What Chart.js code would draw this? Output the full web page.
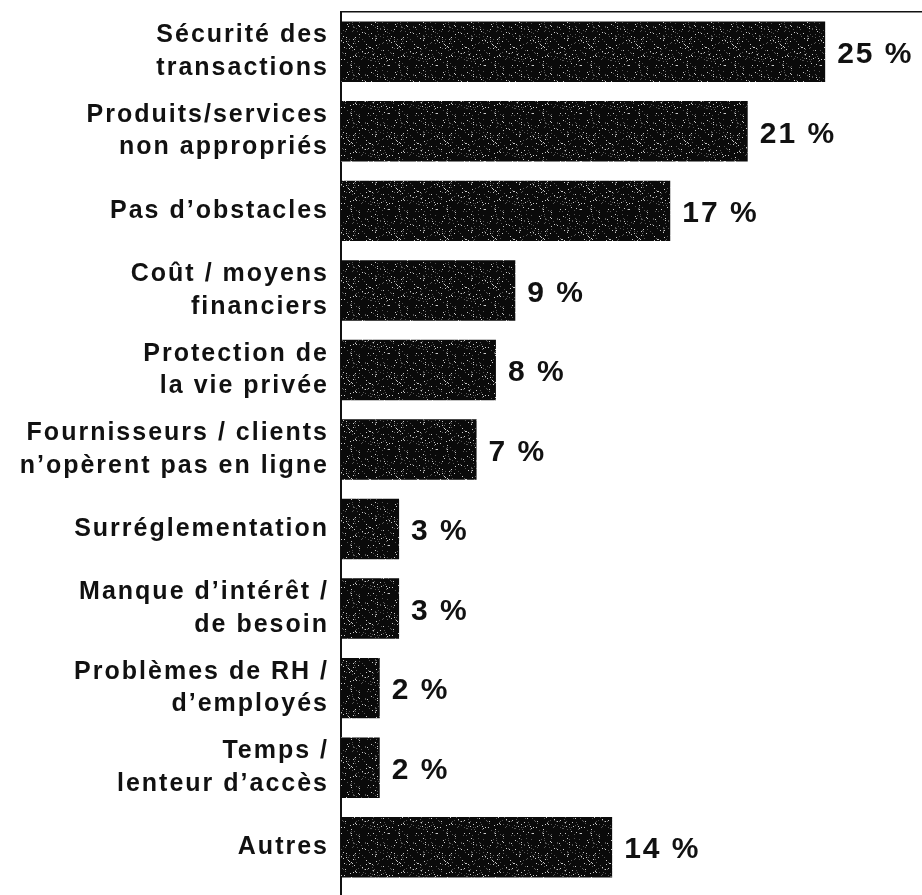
<!DOCTYPE html>
<html>
<head>
<meta charset="utf-8">
<script src="https://cdn.jsdelivr.net/npm/chart.js@4"></script>
<style>
  html, body { margin: 0; padding: 0; background: #fff; }
  #wrap { width: 922px; height: 895px; }
</style>
</head>
<body>
<div id="wrap"><canvas id="chart"></canvas></div>
<script>
// Categories (top to bottom) and percentages
var categories = [
    ['Sécurité des', 'transactions'],
    ['Produits/services', 'non appropriés'],
    'Pas d’obstacles',
    ['Coût / moyens', 'financiers'],
    ['Protection de', 'la vie privée'],
    ['Fournisseurs / clients', 'n’opèrent pas en ligne'],
    'Surréglementation',
    ['Manque d’intérêt /', 'de besoin'],
    ['Problèmes de RH /', 'd’employés'],
    ['Temps /', 'lenteur d’accès'],
    'Autres'
];
var percentages = [25, 21, 17, 9, 8, 7, 3, 3, 2, 2, 14];

// Speckled dark fill, like the scanned bars
function makeSpeckle() {
    var c = document.createElement('canvas');
    c.width = 48; c.height = 48;
    var g = c.getContext('2d');
    g.fillStyle = '#0a0a0a';
    g.fillRect(0, 0, 48, 48);
    for (var y = 0; y < 48; y++) {
        for (var x = 0; x < 48; x++) {
            var h = Math.sin(x * 12.9898 + y * 78.233) * 43758.5453;
            h = h - Math.floor(h);
            if (h > 0.93) {
                g.fillStyle = h > 0.975 ? '#ccc' : '#555';
                g.fillRect(x, y, 1, 1);
            }
        }
    }
    return g.createPattern(c, 'repeat');
}

var valueLabels = {
    id: 'valueLabels',
    beforeDraw: function(chart) {
        chart.ctx.letterSpacing = '2px';
    },
    afterDatasetsDraw: function(chart) {
        var ctx = chart.ctx;
        var meta = chart.getDatasetMeta(0);
        ctx.save();
        ctx.font = 'bold 30px "Liberation Sans", Arial, sans-serif';
        ctx.fillStyle = '#111';
        ctx.textBaseline = 'middle';
        ctx.textAlign = 'left';
        meta.data.forEach(function(bar, i) {
            ctx.fillText(percentages[i] + ' %', bar.x + 12, bar.y + 3);
        });
        ctx.restore();
    },
    afterDraw: function(chart) {
        // axis line runs down to the bottom edge
        var ctx = chart.ctx, a = chart.chartArea;
        ctx.save();
        ctx.strokeStyle = '#111';
        ctx.lineWidth = 2;
        ctx.beginPath();
        ctx.moveTo(a.left, a.bottom);
        ctx.lineTo(a.left, chart.height);
        ctx.stroke();
        ctx.restore();
    }
};

var ctx = document.getElementById('chart').getContext('2d');
var chart = new Chart(ctx, {
    type: 'bar',
    data: {
        labels: categories,
        datasets: [{
            data: percentages,
            backgroundColor: makeSpeckle(),
            borderWidth: 0,
            barPercentage: 0.76,
            categoryPercentage: 1
        }]
    },
    options: {
        indexAxis: 'y',
        responsive: true,
        maintainAspectRatio: false,
        animation: false,
        layout: { padding: { top: 12, bottom: 8, right: 0, left: 0 } },
        plugins: {
            legend: { display: false },
            tooltip: { enabled: false }
        },
        scales: {
            x: {
                position: 'top',
                min: 0,
                max: 30,
                afterFit: function(scale) { scale.height = 0; },
                ticks: { display: false },
                grid: { display: false },
                border: { display: true, color: '#111', width: 1.5 }
            },
            y: {
                afterFit: function(scale) {
                    scale.width = 341;
                    scale.paddingTop = 0;
                    scale.paddingBottom = 0;
                },
                ticks: {
                    color: '#111',
                    padding: 4,
                    font: { family: '"Liberation Sans", Arial, sans-serif', size: 25, weight: 'bold', lineHeight: 1.3 }
                },
                grid: { display: false },
                border: { display: true, color: '#111', width: 2 }
            }
        }
    },
    plugins: [valueLabels]
});
</script>
</body>
</html>
